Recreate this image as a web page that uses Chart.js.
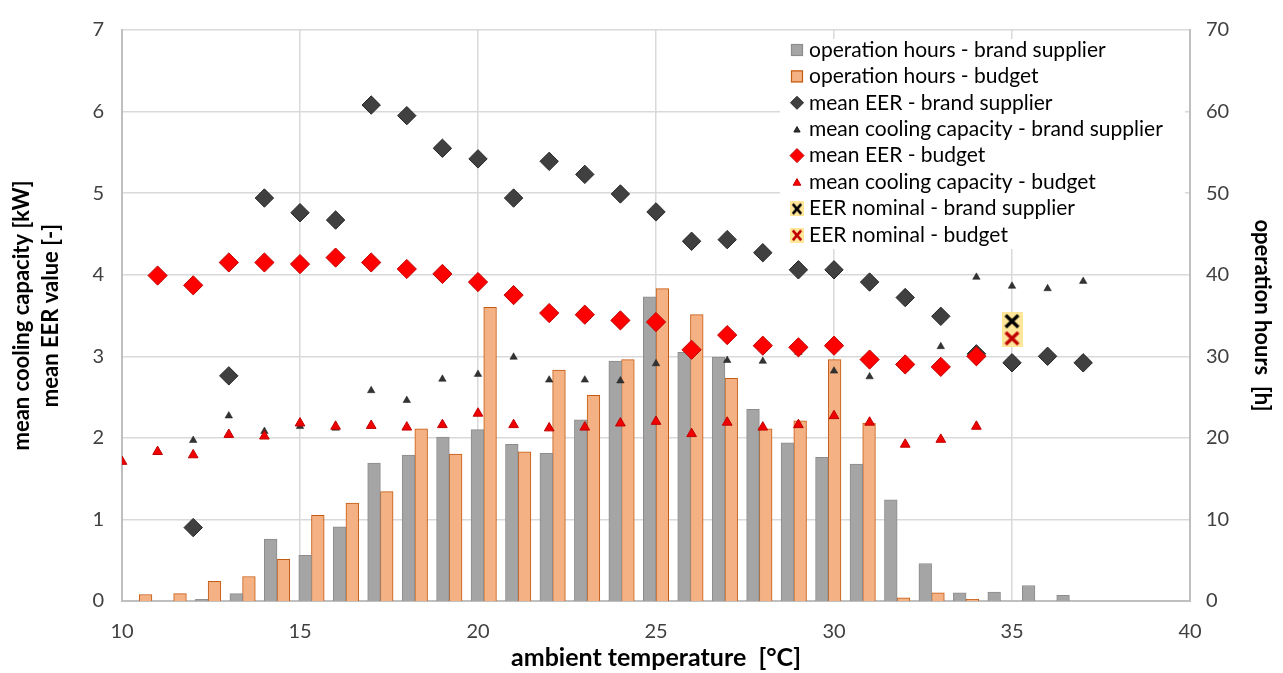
<!DOCTYPE html>
<html>
<head>
<meta charset="UTF-8">
<title>operation hours / EER / cooling capacity</title>
<script src="https://cdn.jsdelivr.net/npm/chart.js@4.4.1/dist/chart.umd.min.js"></script>
<style>
    html, body { margin:0; padding:0; background:#ffffff; }
    #id_wrap { width:1283px; height:673px; }
</style>
</head>
<body>
<div id="id_wrap"><canvas id="id_chart" width="1283" height="673"></canvas></div>
<script>
// temperature bins of the bars (category axis)
var TEMP_BINS = [10,11,12,13,14,15,16,17,18,19,20,21,22,23,24,25,26,27,28,29,30,31,32,33,34,35,36,37,38,39,40];
var HOURS_BRAND  = [null,null,0.2,0.9,7.6,5.6,9.1,16.9,17.9,20.1,21.0,19.2,18.1,22.2,29.4,37.3,30.5,29.9,23.5,19.4,17.6,16.8,12.4,4.6,1.0,1.1,1.9,0.7,null,null,null];
var HOURS_BUDGET = [0.8,0.9,2.4,3.0,5.1,10.5,12.0,13.4,21.1,18.0,36.0,18.3,28.3,25.2,29.6,38.3,35.1,27.3,21.1,22.1,29.6,21.8,0.4,1.0,0.2,null,null,null,null,null,null];

// brand supplier
var TEMP_BRAND = [12,13,14,15,16,17,18,19,20,21,22,23,24,25,26,27,28,29,30,31,32,33,34,35,36,37];
var EER_BRAND  = [0.90,2.76,4.94,4.76,4.67,6.08,5.95,5.55,5.42,4.94,5.39,5.23,4.99,4.77,4.41,4.43,4.27,4.06,4.06,3.91,3.72,3.49,3.03,2.92,3.00,2.92];
var CAP_BRAND  = [1.97,2.27,2.08,2.14,2.12,2.58,2.46,2.72,2.78,2.99,2.71,2.71,2.70,2.91,null,2.95,2.94,3.05,2.82,2.75,2.85,3.12,3.97,3.86,3.83,3.92];

// budget
var TEMP_BUDGET_EER = [11,12,13,14,15,16,17,18,19,20,21,22,23,24,25,26,27,28,29,30,31,32,33,34];
var EER_BUDGET      = [3.99,3.87,4.15,4.15,4.13,4.21,4.15,4.07,4.01,3.91,3.75,3.53,3.51,3.44,3.42,3.08,3.26,3.13,3.11,3.13,2.96,2.90,2.87,3.00];
var TEMP_BUDGET_CAP = [10,11,12,13,14,15,16,17,18,19,20,21,22,23,24,25,26,27,28,29,30,31,32,33,34];
var CAP_BUDGET      = [1.71,1.83,1.79,2.04,2.02,2.18,2.14,2.15,2.13,2.16,2.30,2.16,2.12,2.13,2.18,2.20,2.05,2.19,2.13,2.16,2.27,2.19,1.92,1.98,2.14];

// nominal EER
var TEMP_NOMINAL = [35];
var EER_NOMINAL_BRAND  = [3.43];
var EER_NOMINAL_BUDGET = [3.22];

var X_TITLE = "ambient temperature  [\u00B0C]";
var Y_TITLE = ["mean cooling capacity [kW]", "mean EER value [-]"];
var Y2_TITLE = "operation hours  [h]";

var FONT = "Lato, 'Open Sans', sans-serif";
var GRID = "#d9d9d9";
var AXIS = "#bfbfbf";

var _toPoints = function( xs, ys ){
    var i, out = [];
    for( i=0; i<xs.length; i++ ){
        if( ys[i] !== null ){
            out.push({ x : xs[i], y : ys[i] });
        }
    }
    return out;
};

// yellow box with a cross, like the excel marker
var _createCrossMarker = function( color, w, h, lw ){
    var c = document.createElement("canvas");
    c.width = w; c.height = h;
    var ctx = c.getContext("2d");
    var mx = w * 0.2, my = h * 0.17;
    ctx.fillStyle = "#FFE699";
    ctx.fillRect(0, 0, w, h);
    ctx.strokeStyle = color;
    ctx.lineWidth = lw;
    ctx.beginPath();
    ctx.moveTo(mx, my);     ctx.lineTo(w-mx, h-my);
    ctx.moveTo(w-mx, my);   ctx.lineTo(mx, h-my);
    ctx.stroke();
    return c;
};

var MARK_NOM_BRAND  = _createCrossMarker("#000000", 21, 18, 3.4);
var MARK_NOM_BUDGET = _createCrossMarker("#C00000", 21, 18, 3.4);

// legend drawn inside the plot (top right), white box over the grid
var _legendItems = [
    { text:"operation hours - brand supplier", box:true, fill:"#A5A5A5", line:"#8C8C8C" },
    { text:"operation hours - budget", box:true, fill:"#F4B183", line:"#C55A11" },
    { text:"mean EER - brand supplier", style:"rectRot", r:6.5, fill:"#404040", line:"#262626" },
    { text:"mean cooling capacity - brand supplier", style:"triangle", r:3.6, fill:"#333333", line:"#1a1a1a" },
    { text:"mean EER - budget", style:"rectRot", r:7, fill:"#FF0000", line:"#C00000" },
    { text:"mean cooling capacity - budget", style:"triangle", r:4.4, fill:"#FF0000", line:"#C00000" },
    { text:"EER nominal - brand supplier", style:_createCrossMarker("#000000", 14, 15, 2.6) },
    { text:"EER nominal - budget", style:_createCrossMarker("#C00000", 14, 15, 2.6) }
];

var insideLegend = {
    id : "insideLegend",
    afterDraw : function( chart ){
        var ctx = chart.ctx;
        var area = chart.chartArea;
        var left = area.right - 410, top = area.top + 9;
        var i, it, y, rowH = 26.4;
        ctx.save();
        ctx.fillStyle = "#ffffff";
        ctx.fillRect(left, top, 405, 210);
        ctx.font = "21px " + FONT;
        ctx.textBaseline = "middle";
        for( i=0; i<_legendItems.length; i++ ){
            it = _legendItems[i];
            y = top + 11 + i*rowH;
            if( it.box ){
                ctx.fillStyle = it.fill;
                ctx.strokeStyle = it.line;
                ctx.lineWidth = 1.2;
                ctx.fillRect(left + 11, y - 6, 12, 12);
                ctx.strokeRect(left + 11.5, y - 5.5, 11, 11);
            }else if( typeof it.style === "string" ){
                ctx.fillStyle = it.fill;
                ctx.strokeStyle = it.line;
                ctx.lineWidth = 1;
                Chart.helpers.drawPoint(ctx, { pointStyle:it.style, radius:it.r, rotation:0, borderWidth:1 }, left + 17, y + (it.style === "triangle" ? 1 : 0));
            }else{
                ctx.drawImage(it.style, left + 10, y - 7);
            }
            ctx.fillStyle = "#000000";
            ctx.fillText(it.text, left + 29, y);
        }
        ctx.restore();
    }
};

var _createChart = function(){
    var ctx = document.getElementById("id_chart").getContext("2d");
    Chart.defaults.font.family = FONT;

    // scatter sets come first in the list: chart.js v4.4 counts the x axes of all
    // datasets when it places grouped bars, so the bar slot is taken from that.
    // drawing order is set by "order" (bars at the back).
    return new Chart(ctx, {
        type : "bar",
        data : {
            labels : TEMP_BINS,
            datasets : [
                {
                    type : "scatter", label : "mean EER - brand supplier",
                    data : _toPoints(TEMP_BRAND, EER_BRAND), xAxisID : "x", yAxisID : "y",
                    pointStyle : "rectRot", pointRadius : 9.2,
                    backgroundColor : "#404040", borderColor : "#262626", borderWidth : 1, order : 8
                },
                {
                    type : "scatter", label : "mean cooling capacity - brand supplier",
                    data : _toPoints(TEMP_BRAND, CAP_BRAND), xAxisID : "x", yAxisID : "y",
                    pointStyle : "triangle", pointRadius : 4.3,
                    backgroundColor : "#333333", borderColor : "#1a1a1a", borderWidth : 0.5, order : 7
                },
                {
                    type : "scatter", label : "mean EER - budget",
                    data : _toPoints(TEMP_BUDGET_EER, EER_BUDGET), xAxisID : "x", yAxisID : "y",
                    pointStyle : "rectRot", pointRadius : 9.6,
                    backgroundColor : "#FF0000", borderColor : "#C00000", borderWidth : 1, order : 6
                },
                {
                    type : "scatter", label : "mean cooling capacity - budget",
                    data : _toPoints(TEMP_BUDGET_CAP, CAP_BUDGET), xAxisID : "x", yAxisID : "y",
                    pointStyle : "triangle", pointRadius : 5.6,
                    backgroundColor : "#F00000", borderColor : "#C00000", borderWidth : 1, order : 5
                },
                {
                    type : "scatter", label : "EER nominal - brand supplier",
                    data : _toPoints(TEMP_NOMINAL, EER_NOMINAL_BRAND), xAxisID : "x", yAxisID : "y",
                    pointStyle : MARK_NOM_BRAND, order : 4
                },
                {
                    type : "scatter", label : "EER nominal - budget",
                    data : _toPoints(TEMP_NOMINAL, EER_NOMINAL_BUDGET), xAxisID : "x", yAxisID : "y",
                    pointStyle : MARK_NOM_BUDGET, order : 3
                },
                {
                    type : "bar", label : "operation hours - brand supplier",
                    data : HOURS_BRAND, xAxisID : "xb", yAxisID : "yh",
                    backgroundColor : "#A5A5A5", borderColor : "#8C8C8C", borderWidth : 1,
                    barThickness : 12.7, order : 9
                },
                {
                    type : "bar", label : "operation hours - budget",
                    data : HOURS_BUDGET, xAxisID : "xb", yAxisID : "yh",
                    backgroundColor : "#F4B183", borderColor : "#C55A11", borderWidth : 1,
                    barThickness : 12.7, order : 10
                }
            ]
        },
        options : {
            responsive : false,
            animation : false,
            events : [],
            layout : { padding : { top : 18, left : 0, right : 0, bottom : 0 } },
            plugins : {
                legend : { display : false },
                tooltip : { enabled : false }
            },
            scales : {
                x : {
                    type : "linear", position : "bottom", min : 10, max : 40, offset : false,
                    ticks : { stepSize : 5, padding : 19, color : "#404040", font : { size : 20 } },
                    grid : { color : GRID, lineWidth : 1.5, drawTicks : false, offset : false },
                    border : { color : AXIS, width : 2 },
                    title : { display : true, text : X_TITLE, color : "#000000",
                              font : { size : 25, weight : "bold" }, padding : { top : 0, bottom : 0 } },
                    afterFit : function( scale ){ scale.height = 72; }
                },
                xb : {
                    type : "category", labels : TEMP_BINS, offset : true, display : false,
                    grid : { offset : true }
                },
                y : {
                    type : "linear", position : "left", min : 0, max : 7,
                    ticks : { stepSize : 1, padding : 18, color : "#404040", font : { size : 20 } },
                    grid : { color : GRID, lineWidth : 1.5, drawTicks : false },
                    border : { color : AXIS, width : 2 },
                    title : { display : true, text : Y_TITLE, color : "#000000",
                              font : { size : 22, weight : "bold", lineHeight : 1.3 }, padding : { top : 8, bottom : 0 } },
                    afterFit : function( scale ){ scale.width = 122; }
                },
                yh : {
                    type : "linear", position : "right", min : 0, max : 70,
                    ticks : { stepSize : 10, padding : 16, color : "#404040", font : { size : 20 } },
                    grid : { display : false, drawTicks : false },
                    border : { color : AXIS, width : 2 },
                    title : { display : true, text : Y2_TITLE, color : "#000000",
                              font : { size : 22, weight : "bold" }, padding : { top : 8, bottom : 0 } },
                    afterFit : function( scale ){ scale.width = 93; }
                }
            }
        },
        plugins : [ insideLegend ]
    });
};

var myChart = _createChart();
</script>
</body>
</html>
